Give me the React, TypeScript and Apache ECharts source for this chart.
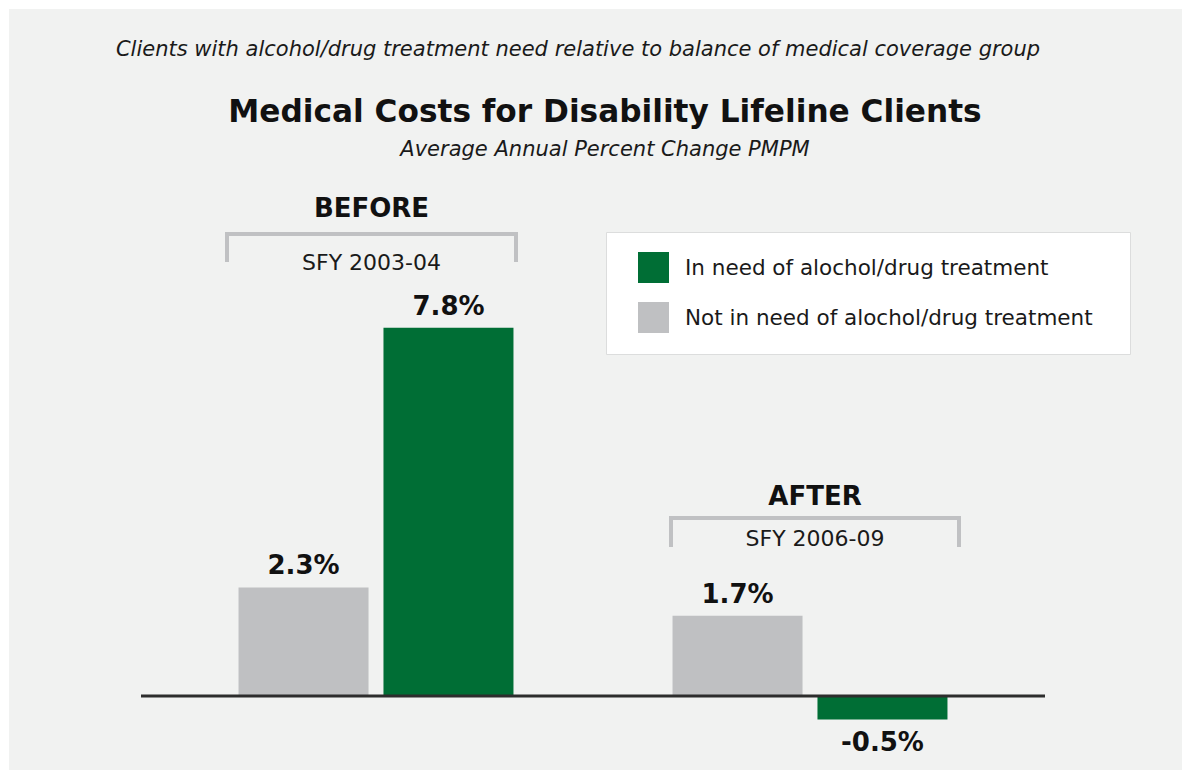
import React, { useEffect, useRef } from "react";
import * as echarts from "echarts";

const periods = ["Before", "After"];
const periodLabels = ["BEFORE", "AFTER"];
const periodYears = ["SFY 2003-04", "SFY 2006-09"];
const seriesNames = ["Not in need of alochol/drug treatment", "In need of alochol/drug treatment"];
const notInNeed = [2.3, 1.7];
const inNeed = [7.8, -0.5];

const GREEN = "#006e35";
const GRAY = "#bfc0c2";
const FONT = "'DejaVu Sans', 'Noto Sans', sans-serif";

export default function App() {
  const ref = useRef<HTMLDivElement>(null);
  useEffect(() => {
    if (!ref.current) return;
    const chart = echarts.init(ref.current, undefined, { renderer: "svg" });
    const labelFor = (v: number) => ({
      show: true,
      position: v < 0 ? "bottom" : "top",
      distance: 9,
      formatter: (p: any) => p.value.toFixed(1) + "%",
      fontFamily: FONT,
      fontWeight: "bold",
      fontSize: 26,
      color: "#111",
    });
    const mk = (vals: number[]) => vals.map((v) => ({ value: v, label: labelFor(v) }));
    const base: any = {
      animation: false,
      backgroundColor: "#ffffff",
      grid: { left: 159, width: 868, top: 224, height: 542.8 },
      xAxis: {
        type: "category",
        data: periods,
        axisLine: { show: false },
        axisTick: { show: false },
        axisLabel: { show: false },
      },
      yAxis: {
        type: "value",
        min: -1.5,
        max: 10,
        show: false,
        splitLine: { show: false },
      },
      legend: {
        data: [seriesNames[1], seriesNames[0]],
        orient: "vertical",
        left: 633,
        top: 247,
        itemWidth: 31,
        itemHeight: 31,
        itemGap: 19,
        icon: "rect",
        textStyle: { fontFamily: FONT, fontSize: 21.5, color: "#1a1a1a", padding: [0, 0, 0, 11] },
      },
      series: [
        {
          name: seriesNames[0],
          type: "bar",
          data: mk(notInNeed),
          barWidth: 130,
          barGap: "11.5%",
          itemStyle: { color: GRAY },
        },
        {
          name: seriesNames[1],
          type: "bar",
          data: mk(inNeed),
          barWidth: 130,
          barGap: "11.5%",
          itemStyle: { color: GREEN },
        },
      ],
    };
    chart.setOption(base);
    const y0 = chart.convertToPixel({ yAxisIndex: 0 }, 0) as number;
    const bracketColor = "#c0c1c3";
    const brackets = [
      { x1: 227, x2: 516, top: 234, bottom: 262, title: 208, years: 262 },
      { x1: 671, x2: 959, top: 518, bottom: 547, title: 496, years: 538 },
    ];
    const graphics: any[] = [
      { type: "rect", z: -10, shape: { x: 9, y: 9, width: 1173, height: 761 }, style: { fill: "#f1f2f1" } },
      {
        type: "rect",
        z: 0,
        shape: { x: 606.5, y: 232.5, width: 524, height: 122 },
        style: { fill: "#ffffff", stroke: "#dcdddd", lineWidth: 1 },
      },
      {
        type: "text",
        x: 578,
        y: 49,
        style: {
          text: "Clients with alcohol/drug treatment need relative to balance of medical coverage group",
          fontFamily: FONT,
          fontStyle: "italic",
          fontSize: 21,
          fill: "#1a1a1a",
          textAlign: "center",
          textVerticalAlign: "middle",
        },
      },
      {
        type: "text",
        x: 605,
        y: 111,
        style: {
          text: "Medical Costs for Disability Lifeline Clients",
          fontFamily: FONT,
          fontWeight: "bold",
          fontSize: 31.2,
          fill: "#111",
          textAlign: "center",
          textVerticalAlign: "middle",
        },
      },
      {
        type: "text",
        x: 605,
        y: 149,
        style: {
          text: "Average Annual Percent Change PMPM",
          fontFamily: FONT,
          fontStyle: "italic",
          fontSize: 21,
          fill: "#1a1a1a",
          textAlign: "center",
          textVerticalAlign: "middle",
        },
      },
      {
        type: "line",
        z: 10,
        shape: { x1: 141, y1: y0, x2: 1045, y2: y0 },
        style: { stroke: "#2d2d2d", lineWidth: 3 },
      },
    ];
    brackets.forEach((b, i) => {
      graphics.push({
        type: "polyline",
        shape: { points: [[b.x1, b.bottom], [b.x1, b.top], [b.x2, b.top], [b.x2, b.bottom]] },
        style: { stroke: bracketColor, lineWidth: 4, fill: null },
      });
      graphics.push({
        type: "text",
        x: (b.x1 + b.x2) / 2,
        y: b.title,
        style: {
          text: periodLabels[i],
          fontFamily: FONT,
          fontWeight: "bold",
          fontSize: 26,
          fill: "#111",
          textAlign: "center",
          textVerticalAlign: "middle",
        },
      });
      graphics.push({
        type: "text",
        x: (b.x1 + b.x2) / 2,
        y: b.years,
        style: {
          text: periodYears[i],
          fontFamily: FONT,
          fontSize: 22,
          fill: "#1a1a1a",
          textAlign: "center",
          textVerticalAlign: "middle",
        },
      });
    });
    chart.setOption({ graphic: graphics });
    return () => chart.dispose();
  }, []);
  return (
    <div
      ref={ref}
      style={{ position: "fixed", left: 0, top: 0, width: 1182, height: 770 }}
    />
  );
}
